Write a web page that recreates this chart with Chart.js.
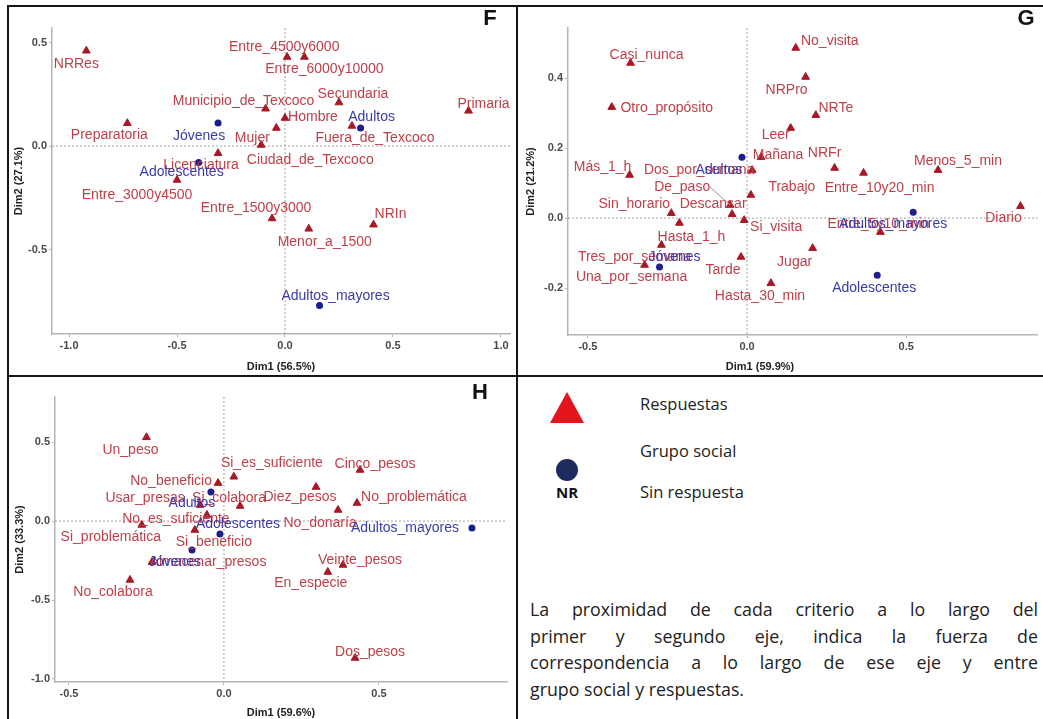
<!DOCTYPE html>
<html>
<head>
<meta charset="utf-8">
<script src="https://cdn.jsdelivr.net/npm/chart.js@4.4.1/dist/chart.umd.min.js"></script>
<style>
body { margin: 0; background: #fff; }
#wrap { position: relative; width: 1043px; height: 719px; overflow: hidden; background: #fff; }
.ln { position: absolute; background: #151515; }
canvas { position: absolute; }
.lg { position: absolute; font-family: "Open Sans", sans-serif; font-size: 16.5px; color: #222; line-height: 22px; }
.para { position: absolute; left: 530px; top: 596px; width: 508px; font-family: "Open Sans", sans-serif; font-size: 17.8px; color: #222; line-height: 26.7px; }
.para div { text-align: justify; text-align-last: justify; white-space: nowrap; }
.para div.last { text-align-last: left; }
</style>
</head>
<body>
<div id="wrap">
  <canvas id="chartF" width="507" height="368" style="left:9px;top:7px"></canvas>
  <canvas id="chartG" width="524" height="368" style="left:519px;top:7px"></canvas>
  <canvas id="chartH" width="507" height="342" style="left:9px;top:377px"></canvas>

  <div class="ln" style="left:7px;top:5px;width:1036px;height:2px"></div>
  <div class="ln" style="left:7px;top:5px;width:2px;height:714px"></div>
  <div class="ln" style="left:516px;top:5px;width:2px;height:714px"></div>
  <div class="ln" style="left:7px;top:375px;width:1036px;height:2px"></div>

  <div style="position:absolute;left:550px;top:392px;width:0;height:0;border-left:17px solid transparent;border-right:17px solid transparent;border-bottom:31px solid #e3141c"></div>
  <div style="position:absolute;left:556px;top:459px;width:22px;height:22px;border-radius:50%;background:#1e2b5e"></div>
  <div style="position:absolute;left:556px;top:482px;font-family:'Open Sans',sans-serif;font-weight:bold;font-size:15px;color:#111">NR</div>
  <div class="lg" style="left:640px;top:393px">Respuestas</div>
  <div class="lg" style="left:640px;top:440px">Grupo social</div>
  <div class="lg" style="left:640px;top:481px">Sin respuesta</div>

  <div class="para">
    <div>La proximidad de cada criterio a lo largo del</div>
    <div>primer y segundo eje, indica la fuerza de</div>
    <div>correspondencia a lo largo de ese eje y entre</div>
    <div class="last">grupo social y respuestas.</div>
  </div>
</div>

<script>
// ---- Panel F ----
const fRespNames = ["NRRes", "Preparatoria", "Licenciatura", "Entre_3000y4500", "Entre_4500y6000",
    "Entre_6000y10000", "Municipio_de_Texcoco", "Secundaria", "Hombre", "Fuera_de_Texcoco",
    "Mujer", "Ciudad_de_Texcoco", "Primaria", "Entre_1500y3000", "Menor_a_1500", "NRIn"];
const fRespX = [-0.92, -0.73, -0.31, -0.50, 0.01, 0.09, -0.09, 0.25, 0.00, 0.31, -0.04, -0.11, 0.85, -0.06, 0.11, 0.41];
const fRespY = [0.46, 0.11, -0.035, -0.164, 0.43, 0.43, 0.18, 0.21, 0.135, 0.097, 0.087, 0.005, 0.17, -0.35, -0.40, -0.38];
const fGrupoNames = ["Jóvenes", "Adolescentes", "Adultos", "Adultos_mayores"];
const fGrupoX = [-0.31, -0.40, 0.35, 0.16];
const fGrupoY = [0.111, -0.08, 0.087, -0.77];
const fXTicks = [-1.0, -0.5, 0.0, 0.5, 1.0];
const fYTicks = [-0.5, 0.0, 0.5];

// ---- Panel G ----
const gRespNames = ["Casi_nunca", "Otro_propósito", "No_visita", "NRPro", "NRTe", "Leer", "Mañana",
    "Dos_por_semana", "NRFr", "Menos_5_min", "Entre_10y20_min", "Más_1_h", "De_paso", "Trabajo",
    "Sin_horario", "Descansar", "Si_visita", "Hasta_1_h", "Tres_por_semana", "Una_por_semana",
    "Tarde", "Jugar", "Hasta_30_min", "Entre_5y10_min", "Diario"];
const gRespX = [-0.366, -0.425, 0.153, 0.184, 0.216, 0.137, 0.044, 0.016, 0.275, 0.60, 0.366, -0.369, -0.053,
    0.012, -0.238, -0.047, -0.009, -0.2125, -0.269, -0.322, -0.019, 0.206, 0.075, 0.419, 0.859];
const gRespY = [0.443, 0.317, 0.486, 0.403, 0.294, 0.257, 0.174, 0.137, 0.143, 0.137, 0.129, 0.123, 0.037,
    0.066, 0.014, 0.011, -0.006, -0.014, -0.077, -0.134, -0.111, -0.086, -0.186, -0.04, 0.034];
const gGrupoNames = ["Adultos", "Jóvenes", "Adolescentes", "Adultos_mayores"];
const gGrupoX = [-0.016, -0.275, 0.409, 0.522];
const gGrupoY = [0.174, -0.14, -0.163, 0.017];
const gXTicks = [-0.5, 0.0, 0.5];
const gYTicks = [-0.2, 0.0, 0.2, 0.4];

// ---- Panel H ----
const hRespNames = ["Un_peso", "Si_es_suficiente", "No_beneficio", "Usar_presas", "Si_colabora",
    "No_es_suficiente", "Si_problemática", "Si_beneficio", "Almacenar_presos", "No_colabora",
    "Diez_pesos", "No_donaría", "No_problemática", "Cinco_pesos", "Veinte_pesos", "En_especie", "Dos_pesos"];
const hRespX = [-0.25, 0.032, -0.019, -0.077, 0.052, -0.055, -0.265, -0.094, -0.232, -0.303,
    0.297, 0.368, 0.429, 0.439, 0.384, 0.335, 0.423];
const hRespY = [0.53, 0.28, 0.24, 0.101, 0.095, 0.038, -0.025, -0.057, -0.26, -0.373,
    0.215, 0.07, 0.114, 0.323, -0.278, -0.323, -0.867];
const hGrupoNames = ["Adultos", "Adolescentes", "Jóvenes", "Adultos_mayores"];
const hGrupoX = [-0.042, -0.013, -0.103, 0.80];
const hGrupoY = [0.184, -0.082, -0.184, -0.044];
const hXTicks = [-0.5, 0.0, 0.5];
const hYTicks = [-1.0, -0.5, 0.0, 0.5];

// label offsets in px (label centre relative to its point)
const fRespOff = [[-10,13],[-18,12],[-17,12],[-40,15],[-3,-10],[20,12],[-22,-8],[14,-8],[28,-1],[23,12],
    [-24,10],[49,15],[15,-7],[-16,-10],[16,13],[17,-11]];
const fGrupoOff = [[-19,13],[-17,10],[11,-11],[16,-9]];
const gRespOff = [[16,-8],[55,1],[34,-7],[-19,13],[20,-7],[-15,7],[17,-2],[-53,0],[-10,-15],[20,-9],[16,15],
    [-27,-8],[-48,-18],[41,-8],[-37,-9],[-19,-10],[32,7],[12,14],[-27,12],[-13,12],[-18,13],[-18,14],
    [-11,13],[-2,-8],[-17,12]];
const gGrupoOff = [[-23,13],[15,-10],[-3,13],[-20,12]];
const hRespOff = [[-16,13],[38,-14],[-47,-2],[-55,-7],[-11,-8],[-31,4],[-31,12],[19,12],[56,0],[-17,12],
    [-16,10],[-18,13],[57,-6],[15,-6],[17,-5],[-17,11],[15,-6]];
const hGrupoOff = [[-19,11],[18,-10],[-17,12],[-67,0]];
const gSegments = ["De_paso"];

const RED = "#a81825";
const RED_TXT = "#bd3f49";
const BLUE = "#1a1f8c";
const BLUE_TXT = "#3a3aa8";
const FONT = '"Liberation Sans", Arial, sans-serif';

const panelPlugin = {
    id: "panel",
    beforeDatasetsDraw(chart, args, opts) {
        const { ctx, chartArea, scales } = chart;
        const x0 = scales.x.getPixelForValue(0);
        const y0 = scales.y.getPixelForValue(0);
        ctx.save();
        ctx.strokeStyle = "#a0a0a0";
        ctx.lineWidth = 1;
        ctx.setLineDash([2, 2]);
        ctx.beginPath();
        ctx.moveTo(x0, chartArea.top);
        ctx.lineTo(x0, chartArea.bottom);
        ctx.moveTo(chartArea.left, y0);
        ctx.lineTo(chartArea.right, y0);
        ctx.stroke();
        ctx.restore();
    },
    afterDatasetsDraw(chart, args, opts) {
        const { ctx, chartArea } = chart;
        ctx.save();
        ctx.font = "14px " + FONT;
        ctx.textAlign = "center";
        ctx.textBaseline = "middle";
        chart.data.datasets.forEach((ds, i) => {
            const meta = chart.getDatasetMeta(i);
            meta.data.forEach((pt, j) => {
                const lx = pt.x + ds.offsets[j][0];
                const ly = pt.y + ds.offsets[j][1];
                if ((opts.segments || []).includes(ds.names[j])) {
                    const w = ctx.measureText(ds.names[j]).width;
                    ctx.strokeStyle = "#999";
                    ctx.lineWidth = 1;
                    ctx.beginPath();
                    ctx.moveTo(lx + w / 2, ly);
                    ctx.lineTo(pt.x, pt.y);
                    ctx.stroke();
                }
                ctx.fillStyle = ds.labelColor;
                ctx.fillText(ds.names[j], lx, ly);
            });
        });

        ctx.fillStyle = "#111";
        ctx.font = "bold 22px " + FONT;
        ctx.fillText(opts.letter, opts.letterX, opts.letterY);

        ctx.fillStyle = "#222";
        ctx.font = "bold 11px " + FONT;
        const tx = opts.xTitleX !== undefined ? opts.xTitleX : (chartArea.left + chartArea.right) / 2;
        ctx.fillText(opts.xTitle, tx, opts.xTitleY);
        ctx.translate(opts.yTitleX, (chartArea.top + chartArea.bottom) / 2);
        ctx.rotate(-Math.PI / 2);
        ctx.fillText(opts.yTitle, 0, 0);
        ctx.restore();
    }
};

function axis(min, max, ticks, fitFn) {
    return {
        type: "linear",
        min: min,
        max: max,
        afterFit: fitFn,
        afterBuildTicks: s => { s.ticks = ticks.map(v => ({ value: v })); },
        ticks: {
            font: { family: FONT, weight: "bold", size: 11 },
            color: "#4a4a4a",
            padding: 2,
            callback: v => Number(v).toFixed(1)
        },
        grid: { display: true, drawOnChartArea: false, tickLength: 3, color: "#b5b5b5" },
        border: { display: true, color: "#b5b5b5", width: 1.5 }
    };
}

function makePanel(id, p) {
    const ctx = document.getElementById(id);
    new Chart(ctx, {
        type: "scatter",
        data: {
            datasets: [{
                names: p.respNames,
                offsets: p.respOff,
                labelColor: RED_TXT,
                data: p.respX.map((v, i) => ({ x: v, y: p.respY[i] })),
                pointStyle: "triangle",
                pointRadius: 4.5,
                backgroundColor: RED,
                borderColor: RED,
                borderWidth: 1
            }, {
                names: p.grupoNames,
                offsets: p.grupoOff,
                labelColor: BLUE_TXT,
                data: p.grupoX.map((v, i) => ({ x: v, y: p.grupoY[i] })),
                pointStyle: "circle",
                pointRadius: 3.5,
                backgroundColor: BLUE,
                borderColor: BLUE,
                borderWidth: 0
            }]
        },
        options: {
            responsive: false,
            animation: false,
            devicePixelRatio: 1,
            layout: { padding: { top: p.padTop, right: p.padRight, left: 0, bottom: 0 } },
            plugins: {
                legend: { display: false },
                tooltip: { enabled: false },
                panel: p.panel
            },
            scales: {
                x: axis(p.xMin, p.xMax, p.xTicks, s => { s.height = p.xH; }),
                y: axis(p.yMin, p.yMax, p.yTicks, s => { s.width = p.yW; })
            }
        },
        plugins: [panelPlugin]
    });
}

makePanel("chartF", {
    respNames: fRespNames, respX: fRespX, respY: fRespY, respOff: fRespOff,
    grupoNames: fGrupoNames, grupoX: fGrupoX, grupoY: fGrupoY, grupoOff: fGrupoOff,
    xTicks: fXTicks, yTicks: fYTicks,
    xMin: -1.079, xMax: 1.042, yMin: -0.908, yMax: 0.570,
    padTop: 21, padRight: 6, xH: 41, yW: 43,
    panel: { letter: "F", letterX: 481, letterY: 12, xTitle: "Dim1 (56.5%)", xTitleY: 360,
             yTitle: "Dim2 (27.1%)", yTitleX: 10 }
});

makePanel("chartG", {
    respNames: gRespNames, respX: gRespX, respY: gRespY, respOff: gRespOff,
    grupoNames: gGrupoNames, grupoX: gGrupoX, grupoY: gGrupoY, grupoOff: gGrupoOff,
    xTicks: gXTicks, yTicks: gYTicks,
    xMin: -0.5625, xMax: 0.9125, yMin: -0.334, yMax: 0.543,
    padTop: 21, padRight: 3, xH: 40, yW: 49,
    panel: { letter: "G", letterX: 507, letterY: 12, xTitle: "Dim1 (59.9%)", xTitleX: 241, xTitleY: 360,
             yTitle: "Dim2 (21.2%)", yTitleX: 12, segments: gSegments }
});

makePanel("chartH", {
    respNames: hRespNames, respX: hRespX, respY: hRespY, respOff: hRespOff,
    grupoNames: hGrupoNames, grupoX: hGrupoX, grupoY: hGrupoY, grupoOff: hGrupoOff,
    xTicks: hXTicks, yTicks: hYTicks,
    xMin: -0.545, xMax: 0.913, yMin: -1.019, yMax: 0.785,
    padTop: 20, padRight: 9, xH: 37, yW: 46,
    panel: { letter: "H", letterX: 471, letterY: 16, xTitle: "Dim1 (59.6%)", xTitleY: 336,
             yTitle: "Dim2 (33.3%)", yTitleX: 11 }
});
</script>
</body>
</html>
